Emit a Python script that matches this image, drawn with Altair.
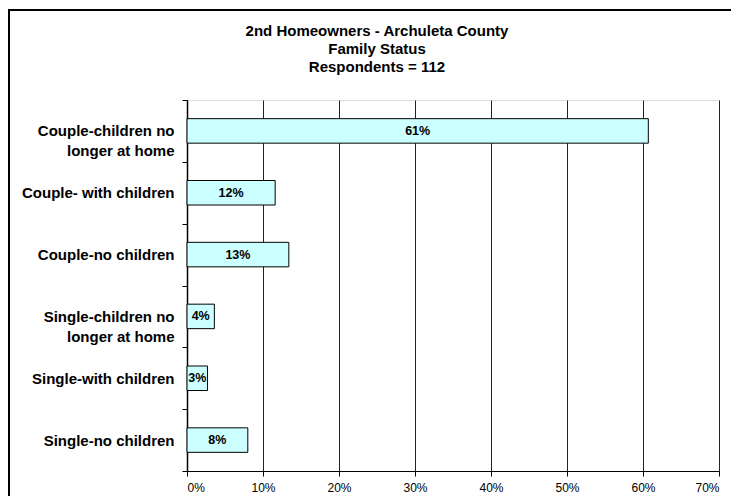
import altair as alt
import pandas as pd

categories = [
    "Couple-children no\nlonger at home",
    "Couple- with children",
    "Couple-no children",
    "Single-children no\nlonger at home",
    "Single-with children",
    "Single-no children",
]
shares = [0.607, 0.116, 0.134, 0.036, 0.027, 0.080]
x_ticks = [0, 0.1, 0.2, 0.3, 0.4, 0.5, 0.6, 0.7]
title_lines = ["2nd Homeowners - Archuleta County", "Family Status", "Respondents = 112"]

df = pd.DataFrame({"status": categories, "share": shares})

FONT = "Liberation Sans"

y_enc = alt.Y(
    "status:N",
    sort=categories,
    title=None,
    scale=alt.Scale(paddingInner=0, paddingOuter=0),
    axis=alt.Axis(
        labelExpr="split(datum.label, '\\n')",
        labelFont=FONT,
        labelFontSize=15,
        labelFontWeight="bold",
        labelColor="black",
        labelLineHeight=20,
        labelPadding=8,
        tickBand="extent",
        tickSize=5,
        tickColor="black",
        domainColor="black",
        domainWidth=1.5,
        labelLimit=300,
    ),
)

x_enc = alt.X(
    "share:Q",
    title=None,
    scale=alt.Scale(domain=[0, 0.7], nice=False),
    axis=alt.Axis(
        values=x_ticks,
        format=".0%",
        labelFont=FONT,
        labelFontSize=12,
        labelColor="black",
        labelPadding=6,
        tickSize=5,
        tickColor="black",
        domainColor="black",
        grid=True,
        gridColor="#222222",
        gridWidth=1,
    ),
)

bars = alt.Chart(df).mark_bar(
    size=24.5, fill="#CCFFFF", stroke="black", strokeWidth=1
).encode(x=x_enc, y=y_enc)

labels = alt.Chart(df).transform_calculate(
    mid="datum.share / 2",
    txt="format(datum.share, '.0%')",
).mark_text(
    font=FONT, fontSize=12.5, fontWeight="bold", color="black", align="center", baseline="middle"
).encode(
    x=alt.X("mid:Q"),
    y=alt.Y("status:N", sort=categories),
    text="txt:N",
)

frame = alt.Chart(pd.DataFrame({"k": [0]})).mark_rect(
    fill=None, stroke="black", strokeWidth=2
).encode(
    x=alt.value(-178), x2=alt.value(900), y=alt.value(-90), y2=alt.value(700)
)

title = alt.Chart(pd.DataFrame({"t": ["\n".join(title_lines)]})).mark_text(
    font=FONT, fontSize=15, fontWeight="bold", color="black",
    align="center", baseline="middle", lineBreak="\n", lineHeight=18,
).encode(
    x=alt.value(190), y=alt.value(-69), text="t:N"
)

chart = alt.layer(frame, bars, labels, title).properties(
    width=532,
    height=371,
    padding={"left": 179, "top": 92, "right": 12, "bottom": 25},
    autosize=alt.AutoSizeParams(type="none"),
).configure_view(stroke="#808080", strokeWidth=1).configure(background="white")

chart.save("out.html", embed_options={"renderer": "svg", "actions": False})
